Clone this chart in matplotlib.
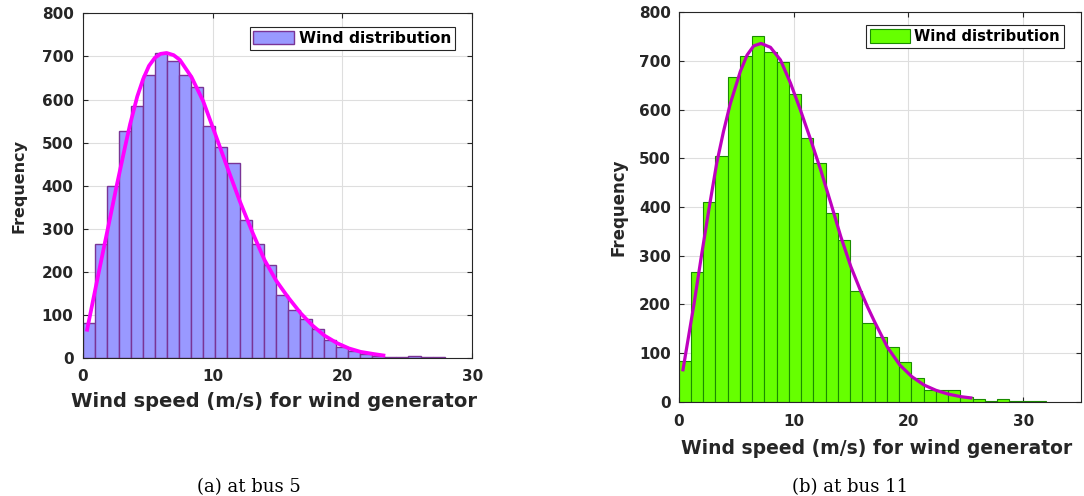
import numpy as np
import matplotlib
matplotlib.use("Agg")
import matplotlib.pyplot as plt

plt.rcParams['font.family'] = ['DejaVu Sans']
plt.rcParams['font.weight'] = 'bold'
plt.rcParams['axes.labelweight'] = 'bold'

# ---- bus 5: histogram counts and fitted density curve ----
bus5_bin_width = 0.929
bus5_counts = [83, 265, 400, 526, 586, 658, 709, 689, 658, 630,
               538, 491, 454, 320, 266, 216, 147, 111, 91, 67,
               43, 27, 18, 10, 6, 3, 2, 5, 2, 2]
bus5_fit_x = [0.31, 1.24, 1.93, 2.6, 3.28, 3.65, 4.2, 4.66, 5.1, 5.56,
              6.0, 6.46, 7.0, 7.48, 8.38, 9.28, 10.3, 11.2, 12.1, 13.1,
              14.0, 14.9, 15.8, 16.8, 17.7, 18.6, 19.6, 20.5, 21.4, 22.4, 23.3]
bus5_fit_y = [62, 200, 300, 398, 493, 543, 607, 648, 678, 697,
              706, 708, 703, 692, 652, 596, 512, 437, 364, 290,
              228, 180, 142, 104, 76, 53, 35, 23, 15, 10, 6]

# ---- bus 11: histogram counts and fitted density curve ----
bus11_bin_width = 1.066
bus11_counts = [83, 267, 410, 504, 668, 710, 751, 719, 697, 632,
                541, 490, 387, 332, 227, 162, 132, 113, 82, 48,
                24, 23, 24, 10, 5, 2, 5, 2, 1, 2]
bus11_fit_x = [0.35, 1.33, 1.95, 2.63, 3.31, 3.9, 4.49, 5.36, 5.95, 6.53,
               7.17, 7.99, 8.86, 9.74, 10.6, 11.49, 12.36, 13.24, 14.11, 14.99,
               15.86, 16.45, 17.03, 18.16, 19.25, 20.3, 21.35, 22.4, 23.5, 24.55, 25.57]
bus11_fit_y = [62, 200, 295, 395, 490, 555, 612, 678, 712, 731,
               736, 728, 702, 654, 599, 538, 476, 408, 339, 277,
               226, 194, 165, 112, 75, 51, 34, 23, 15, 10, 7]

x_ticks_a = [0, 10, 20, 30]
x_ticks_b = [0, 10, 20, 30]
y_ticks = [0, 100, 200, 300, 400, 500, 600, 700, 800]

legend_label = 'Wind distribution'
x_label = 'Wind speed (m/s) for wind generator'
y_label = 'Frequency'
captions = ['(a) at bus 5', '(b) at bus 11']

TXT = '#262626'

fig = plt.figure(figsize=(10.84, 4.96), dpi=100)
ax_a = fig.add_axes([0.0763, 0.2776, 0.3594, 0.6956])
ax_b = fig.add_axes([0.6261, 0.1905, 0.3709, 0.7847])


def style_axes(ax, xlim, xticks, xpad, ypad):
    ax.set_xlim(*xlim)
    ax.set_ylim(0, 800)
    ax.set_xticks(xticks)
    ax.set_yticks(y_ticks)
    ax.set_axisbelow(True)
    ax.grid(True, color='#dedede', linewidth=0.8)
    for sp in ax.spines.values():
        sp.set_color(TXT)
        sp.set_linewidth(0.8)
    ax.tick_params(direction='in', length=3.6, width=0.8, top=True, right=True,
                   colors=TXT, labelsize=11)
    ax.tick_params(axis='x', pad=xpad)
    ax.tick_params(axis='y', pad=ypad)


def draw_hist(ax, counts, bin_width, face, edge, edge_lw, fit_x, fit_y, line_color, line_lw):
    left_edges = np.arange(len(counts)) * bin_width
    bars = ax.bar(left_edges, counts, width=bin_width, align='edge',
                  color=face, edgecolor=edge, linewidth=edge_lw,
                  label=legend_label, zorder=2)
    ax.plot(fit_x, fit_y, color=line_color, linewidth=line_lw,
            solid_capstyle='butt', solid_joinstyle='round', zorder=3)
    return bars


# (a) bus 5
draw_hist(ax_a, bus5_counts, bus5_bin_width, '#9999ff', '#7a3496', 1.0,
          bus5_fit_x, bus5_fit_y, '#ff00ff', 2.7)
style_axes(ax_a, (0, 30), x_ticks_a, xpad=8.0, ypad=6.6)
ax_a.set_xlabel(x_label, fontsize=14, color=TXT, fontweight='bold')
ax_a.set_ylabel(y_label, fontsize=11.5, color=TXT, fontweight='bold')
ax_a.xaxis.set_label_coords(0.491, -0.124)
ax_a.xaxis.label.set_verticalalignment('center')
ax_a.yaxis.set_label_coords(-0.163, 0.5)
ax_a.yaxis.label.set_verticalalignment('center')
leg_a = ax_a.legend(loc='upper right', bbox_to_anchor=(0.9556, 0.9603),
                    borderaxespad=0, fontsize=11.2, fancybox=False,
                    framealpha=1, edgecolor=TXT, borderpad=0.25,
                    handlelength=2.63, handleheight=0.95, handletextpad=0.28)
leg_a.get_frame().set_linewidth(0.8)
for t in leg_a.get_texts():
    t.set_color('black')

# (b) bus 11
draw_hist(ax_b, bus11_counts, bus11_bin_width, '#66ff00', '#1a8c00', 0.8,
          bus11_fit_x, bus11_fit_y, '#bf00bf', 2.3)
style_axes(ax_b, (0, 35), x_ticks_b, xpad=9.3, ypad=5.7)
ax_b.set_xlabel(x_label, fontsize=13.5, color=TXT, fontweight='bold')
ax_b.set_ylabel(y_label, fontsize=12, color=TXT, fontweight='bold')
ax_b.xaxis.set_label_coords(0.493, -0.121)
ax_b.xaxis.label.set_verticalalignment('center')
ax_b.yaxis.set_label_coords(-0.1485, 0.5)
ax_b.yaxis.label.set_verticalalignment('center')
leg_b = ax_b.legend(loc='upper right', bbox_to_anchor=(0.9585, 0.9674),
                    borderaxespad=0, fontsize=10.6, fancybox=False,
                    framealpha=1, edgecolor=TXT, borderpad=0.28,
                    handlelength=2.72, handleheight=1.0, handletextpad=0.28)
leg_b.get_frame().set_linewidth(0.8)
for t in leg_b.get_texts():
    t.set_color('black')

# sub-figure captions
fig.text(249 / 1084, 1 - 487 / 496, captions[0], ha='center', va='center',
         family='DejaVu Serif', fontweight='normal', fontsize=13, color='black')
fig.text(850 / 1084, 1 - 487 / 496, captions[1], ha='center', va='center',
         family='DejaVu Serif', fontweight='normal', fontsize=13, color='black')

fig.savefig('out.png', dpi=100)
